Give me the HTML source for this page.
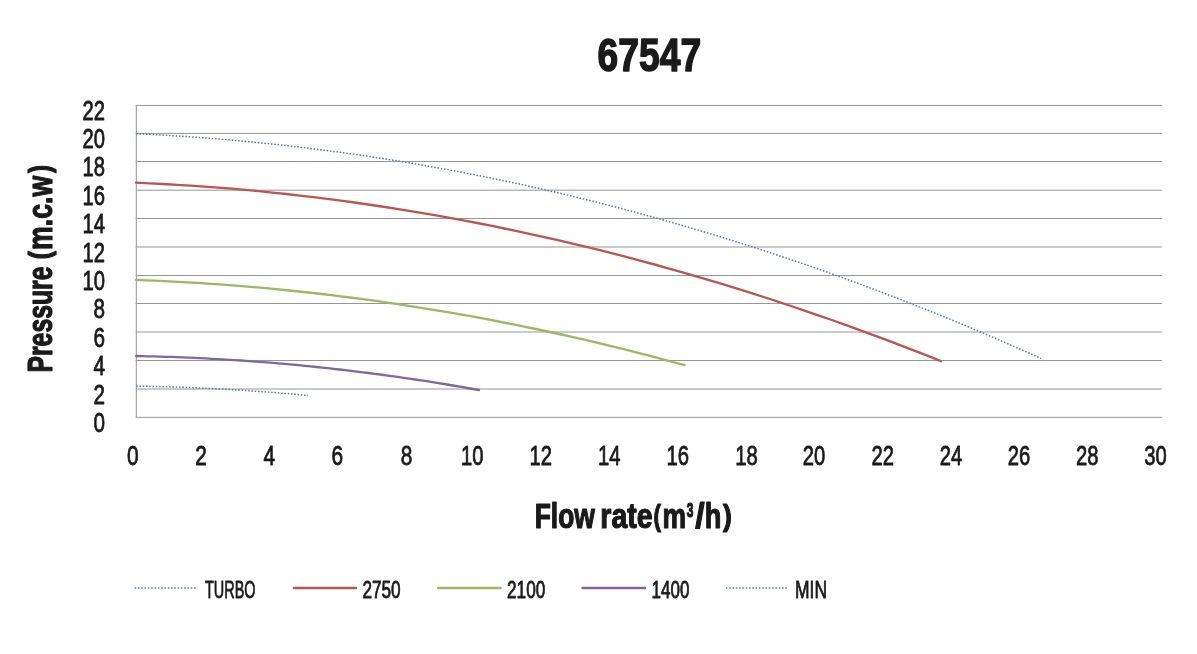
<!DOCTYPE html>
<html lang="en"><head><meta charset="utf-8"><title>67547</title>
<style>
html,body{margin:0;padding:0;background:#fff;}
svg{display:block;}
svg{will-change:transform;}
text{font-family:"Liberation Sans", sans-serif;fill:#1a1a1a;stroke:#1a1a1a;stroke-width:0.8;stroke-linejoin:round;}
.b{font-weight:bold;stroke-width:1.2;}
.t{stroke-width:1.5;}
</style></head><body>
<svg width="1197" height="654" viewBox="0 0 1197 654">

<g stroke="#969696" stroke-width="1.0" fill="none">
<line x1="135.70" y1="417.35" x2="1161.9" y2="417.35"/>
<line x1="135.70" y1="389.00" x2="1161.9" y2="389.00"/>
<line x1="135.70" y1="360.50" x2="1161.9" y2="360.50"/>
<line x1="135.70" y1="332.00" x2="1161.9" y2="332.00"/>
<line x1="135.70" y1="303.50" x2="1161.9" y2="303.50"/>
<line x1="135.70" y1="275.50" x2="1161.9" y2="275.50"/>
<line x1="135.70" y1="247.00" x2="1161.9" y2="247.00"/>
<line x1="135.70" y1="218.50" x2="1161.9" y2="218.50"/>
<line x1="135.70" y1="190.20" x2="1161.9" y2="190.20"/>
<line x1="135.70" y1="161.50" x2="1161.9" y2="161.50"/>
<line x1="135.70" y1="133.40" x2="1161.9" y2="133.40"/>
<line x1="135.70" y1="105.45" x2="1161.9" y2="105.45"/>
<line x1="136.35" y1="104.95" x2="136.35" y2="417.85" stroke="#a2a2a2" stroke-width="1.15"/>
</g>
<path d="M136.1,133.7 L151.4,134.4 L166.8,135.3 L182.1,136.3 L197.5,137.3 L212.8,138.5 L228.1,139.8 L243.5,141.2 L258.8,142.7 L274.2,144.2 L289.5,145.9 L304.8,147.8 L320.2,149.7 L335.5,151.7 L350.8,153.8 L366.2,156.0 L381.5,158.4 L396.9,160.8 L412.2,163.3 L427.5,166.0 L442.9,168.8 L458.2,171.6 L473.6,174.6 L488.9,177.7 L504.2,180.8 L519.6,184.1 L534.9,187.5 L550.3,191.0 L565.6,194.6 L580.9,198.3 L596.3,202.1 L611.6,206.0 L627.0,210.1 L642.3,214.2 L657.6,218.4 L673.0,222.8 L688.3,227.2 L703.6,231.7 L719.0,236.4 L734.3,241.2 L749.7,246.0 L765.0,251.0 L780.3,256.1 L795.7,261.3 L811.0,266.5 L826.4,271.9 L841.7,277.4 L857.0,283.0 L872.4,288.7 L887.7,294.6 L903.1,300.5 L918.4,306.5 L933.7,312.6 L949.1,318.9 L964.4,325.2 L979.8,331.7 L995.1,338.2 L1010.4,344.9 L1025.8,351.6 L1041.1,358.5" fill="none" stroke="#4a7ab4" stroke-width="1.5" stroke-dasharray="1.5 1.8"/>
<path d="M136.1,182.7 L149.7,183.3 L163.4,184.0 L177.0,184.8 L190.7,185.7 L204.3,186.6 L217.9,187.6 L231.6,188.7 L245.2,189.9 L258.9,191.2 L272.5,192.6 L286.2,194.0 L299.8,195.6 L313.4,197.2 L327.1,198.9 L340.7,200.7 L354.4,202.5 L368.0,204.5 L381.6,206.5 L395.3,208.6 L408.9,210.8 L422.6,213.1 L436.2,215.4 L449.8,217.9 L463.5,220.4 L477.1,223.0 L490.8,225.7 L504.4,228.5 L518.1,231.3 L531.7,234.3 L545.3,237.3 L559.0,240.4 L572.6,243.6 L586.3,246.9 L599.9,250.2 L613.5,253.7 L627.2,257.2 L640.8,260.8 L654.5,264.5 L668.1,268.3 L681.7,272.1 L695.4,276.1 L709.0,280.1 L722.7,284.2 L736.3,288.4 L750.0,292.7 L763.6,297.0 L777.2,301.4 L790.9,306.0 L804.5,310.6 L818.2,315.3 L831.8,320.0 L845.4,324.9 L859.1,329.8 L872.7,334.8 L886.4,339.9 L900.0,345.1 L913.7,350.4 L927.3,355.7 L940.9,361.2" fill="none" stroke="#bc5551" stroke-width="2.35" stroke-linecap="round" stroke-linejoin="round"/>
<path d="M136.1,279.9 L145.4,280.3 L154.7,280.7 L164.0,281.1 L173.3,281.6 L182.6,282.1 L191.9,282.6 L201.2,283.2 L210.5,283.8 L219.8,284.4 L229.1,285.1 L238.3,285.8 L247.6,286.6 L256.9,287.4 L266.2,288.2 L275.5,289.1 L284.8,290.0 L294.1,291.0 L303.4,292.0 L312.7,293.0 L322.0,294.0 L331.3,295.1 L340.6,296.3 L349.9,297.5 L359.2,298.7 L368.5,299.9 L377.8,301.2 L387.1,302.6 L396.4,303.9 L405.7,305.3 L415.0,306.8 L424.2,308.3 L433.5,309.8 L442.8,311.3 L452.1,312.9 L461.4,314.6 L470.7,316.2 L480.0,317.9 L489.3,319.7 L498.6,321.5 L507.9,323.3 L517.2,325.2 L526.5,327.1 L535.8,329.0 L545.1,331.0 L554.4,333.0 L563.7,335.0 L573.0,337.1 L582.3,339.2 L591.6,341.4 L600.9,343.6 L610.1,345.9 L619.4,348.1 L628.7,350.4 L638.0,352.8 L647.3,355.2 L656.6,357.6 L665.9,360.1 L675.2,362.6 L684.5,365.1" fill="none" stroke="#99b962" stroke-width="2.35" stroke-linecap="round" stroke-linejoin="round"/>
<path d="M136.1,356.0 L141.9,356.1 L147.7,356.3 L153.5,356.4 L159.3,356.6 L165.2,356.8 L171.0,356.9 L176.8,357.2 L182.6,357.4 L188.4,357.6 L194.2,357.9 L200.0,358.2 L205.8,358.4 L211.7,358.8 L217.5,359.1 L223.3,359.4 L229.1,359.8 L234.9,360.1 L240.7,360.5 L246.5,360.9 L252.3,361.3 L258.2,361.8 L264.0,362.2 L269.8,362.7 L275.6,363.2 L281.4,363.7 L287.2,364.2 L293.0,364.7 L298.8,365.2 L304.7,365.8 L310.5,366.4 L316.3,367.0 L322.1,367.6 L327.9,368.2 L333.7,368.8 L339.5,369.5 L345.3,370.2 L351.2,370.9 L357.0,371.6 L362.8,372.3 L368.6,373.0 L374.4,373.8 L380.2,374.5 L386.0,375.3 L391.8,376.1 L397.7,376.9 L403.5,377.8 L409.3,378.6 L415.1,379.5 L420.9,380.4 L426.7,381.2 L432.5,382.2 L438.3,383.1 L444.2,384.0 L450.0,385.0 L455.8,386.0 L461.6,386.9 L467.4,388.0 L473.2,389.0 L479.0,390.0" fill="none" stroke="#8066a2" stroke-width="2.35" stroke-linecap="round" stroke-linejoin="round"/>
<path d="M136.1,386.1 L139.0,386.2 L141.9,386.2 L144.8,386.3 L147.8,386.3 L150.7,386.4 L153.6,386.4 L156.5,386.5 L159.4,386.6 L162.3,386.7 L165.2,386.8 L168.2,386.8 L171.1,386.9 L174.0,387.0 L176.9,387.1 L179.8,387.2 L182.7,387.3 L185.7,387.4 L188.6,387.5 L191.5,387.7 L194.4,387.8 L197.3,387.9 L200.2,388.0 L203.1,388.2 L206.1,388.3 L209.0,388.4 L211.9,388.6 L214.8,388.7 L217.7,388.9 L220.6,389.0 L223.5,389.2 L226.5,389.4 L229.4,389.5 L232.3,389.7 L235.2,389.9 L238.1,390.0 L241.0,390.2 L243.9,390.4 L246.9,390.6 L249.8,390.8 L252.7,391.0 L255.6,391.2 L258.5,391.4 L261.4,391.6 L264.4,391.8 L267.3,392.0 L270.2,392.2 L273.1,392.5 L276.0,392.7 L278.9,392.9 L281.8,393.2 L284.8,393.4 L287.7,393.6 L290.6,393.9 L293.5,394.1 L296.4,394.4 L299.3,394.7 L302.2,394.9 L305.2,395.2 L308.1,395.4" fill="none" stroke="#4a7ab4" stroke-width="1.5" stroke-dasharray="1.5 1.8"/>
<text x="597.60" y="71.10" font-size="45.6" text-anchor="start" textLength="103.50" lengthAdjust="spacingAndGlyphs" class="b t">67547</text>
<text x="105.10" y="431.85" font-size="27.5" text-anchor="end" textLength="11.50" lengthAdjust="spacingAndGlyphs">0</text>
<text x="105.10" y="403.50" font-size="27.5" text-anchor="end" textLength="11.50" lengthAdjust="spacingAndGlyphs">2</text>
<text x="105.10" y="375.00" font-size="27.5" text-anchor="end" textLength="11.50" lengthAdjust="spacingAndGlyphs">4</text>
<text x="105.10" y="346.50" font-size="27.5" text-anchor="end" textLength="11.50" lengthAdjust="spacingAndGlyphs">6</text>
<text x="105.10" y="318.00" font-size="27.5" text-anchor="end" textLength="11.50" lengthAdjust="spacingAndGlyphs">8</text>
<text x="105.10" y="290.00" font-size="27.5" text-anchor="end" textLength="22.50" lengthAdjust="spacingAndGlyphs">10</text>
<text x="105.10" y="261.50" font-size="27.5" text-anchor="end" textLength="22.50" lengthAdjust="spacingAndGlyphs">12</text>
<text x="105.10" y="233.00" font-size="27.5" text-anchor="end" textLength="22.50" lengthAdjust="spacingAndGlyphs">14</text>
<text x="105.10" y="204.70" font-size="27.5" text-anchor="end" textLength="22.50" lengthAdjust="spacingAndGlyphs">16</text>
<text x="105.10" y="176.00" font-size="27.5" text-anchor="end" textLength="22.50" lengthAdjust="spacingAndGlyphs">18</text>
<text x="105.10" y="147.90" font-size="27.5" text-anchor="end" textLength="22.50" lengthAdjust="spacingAndGlyphs">20</text>
<text x="105.10" y="119.95" font-size="27.5" text-anchor="end" textLength="22.50" lengthAdjust="spacingAndGlyphs">22</text>
<text x="132.90" y="465.00" font-size="27.5" text-anchor="middle" textLength="11.60" lengthAdjust="spacingAndGlyphs">0</text>
<text x="201.07" y="465.00" font-size="27.5" text-anchor="middle" textLength="11.60" lengthAdjust="spacingAndGlyphs">2</text>
<text x="269.24" y="465.00" font-size="27.5" text-anchor="middle" textLength="11.60" lengthAdjust="spacingAndGlyphs">4</text>
<text x="337.41" y="465.00" font-size="27.5" text-anchor="middle" textLength="11.60" lengthAdjust="spacingAndGlyphs">6</text>
<text x="406.48" y="465.00" font-size="27.5" text-anchor="middle" textLength="11.60" lengthAdjust="spacingAndGlyphs">8</text>
<text x="472.15" y="465.00" font-size="27.5" text-anchor="middle" textLength="22.50" lengthAdjust="spacingAndGlyphs">10</text>
<text x="540.72" y="465.00" font-size="27.5" text-anchor="middle" textLength="22.50" lengthAdjust="spacingAndGlyphs">12</text>
<text x="609.19" y="465.00" font-size="27.5" text-anchor="middle" textLength="22.50" lengthAdjust="spacingAndGlyphs">14</text>
<text x="677.76" y="465.00" font-size="27.5" text-anchor="middle" textLength="22.50" lengthAdjust="spacingAndGlyphs">16</text>
<text x="746.43" y="465.00" font-size="27.5" text-anchor="middle" textLength="22.50" lengthAdjust="spacingAndGlyphs">18</text>
<text x="814.00" y="465.00" font-size="27.5" text-anchor="middle" textLength="22.50" lengthAdjust="spacingAndGlyphs">20</text>
<text x="882.77" y="465.00" font-size="27.5" text-anchor="middle" textLength="22.50" lengthAdjust="spacingAndGlyphs">22</text>
<text x="950.94" y="465.00" font-size="27.5" text-anchor="middle" textLength="22.50" lengthAdjust="spacingAndGlyphs">24</text>
<text x="1019.11" y="465.00" font-size="27.5" text-anchor="middle" textLength="22.50" lengthAdjust="spacingAndGlyphs">26</text>
<text x="1087.28" y="465.00" font-size="27.5" text-anchor="middle" textLength="22.50" lengthAdjust="spacingAndGlyphs">28</text>
<text x="1155.45" y="465.00" font-size="27.5" text-anchor="middle" textLength="22.50" lengthAdjust="spacingAndGlyphs">30</text>
<text x="534.69" y="528.2" font-size="34.8" class="b" textLength="60.21" lengthAdjust="spacingAndGlyphs">Flow</text>
<text x="600.36" y="528.2" font-size="34.8" class="b" textLength="52.24" lengthAdjust="spacingAndGlyphs">rate</text>
<text x="653.39" y="526.2" font-size="30.3" class="b" textLength="7.48" lengthAdjust="spacingAndGlyphs">(</text>
<text x="662.48" y="528.2" font-size="34.8" class="b" textLength="23.59" lengthAdjust="spacingAndGlyphs">m</text>
<text x="686.80" y="516.5" font-size="20" class="b" textLength="6.68" lengthAdjust="spacingAndGlyphs">3</text>
<text x="695.31" y="528.2" font-size="34.8" class="b" textLength="9.40" lengthAdjust="spacingAndGlyphs">/</text>
<text x="704.65" y="528.2" font-size="34.8" class="b" textLength="16.63" lengthAdjust="spacingAndGlyphs">h</text>
<text x="722.88" y="526.2" font-size="30.3" class="b" textLength="8.81" lengthAdjust="spacingAndGlyphs">)</text>
<text transform="translate(51.8,372.60) rotate(-90)" x="0" y="0" font-size="34.8" class="b" textLength="106.17" lengthAdjust="spacingAndGlyphs">Pressure</text>
<text transform="translate(49.9,259.30) rotate(-90)" x="0" y="0" font-size="30.3" class="b" textLength="8.07" lengthAdjust="spacingAndGlyphs">(</text>
<text transform="translate(51.8,249.92) rotate(-90)" x="0" y="0" font-size="34.8" class="b" textLength="74.09" lengthAdjust="spacingAndGlyphs">m.c.w</text>
<text transform="translate(49.9,172.90) rotate(-90)" x="0" y="0" font-size="30.3" class="b" textLength="7.95" lengthAdjust="spacingAndGlyphs">)</text>
<line x1="134.7" y1="588" x2="196.4" y2="588" stroke="#4a7ab4" stroke-width="1.5" stroke-dasharray="1.5 1.8"/>
<text x="205.00" y="597.80" font-size="23" text-anchor="start" textLength="50.50" lengthAdjust="spacingAndGlyphs">TURBO</text>
<line x1="293.8" y1="588" x2="356.1" y2="588" stroke="#bc5551" stroke-width="2.3" stroke-linecap="round"/>
<text x="362.40" y="597.80" font-size="23" text-anchor="start" textLength="38.30" lengthAdjust="spacingAndGlyphs">2750</text>
<line x1="438" y1="588" x2="500.7" y2="588" stroke="#99b962" stroke-width="2.3" stroke-linecap="round"/>
<text x="507.00" y="597.80" font-size="23" text-anchor="start" textLength="38.30" lengthAdjust="spacingAndGlyphs">2100</text>
<line x1="582.5" y1="588" x2="645" y2="588" stroke="#8066a2" stroke-width="2.3" stroke-linecap="round"/>
<text x="651.60" y="597.80" font-size="23" text-anchor="start" textLength="37.80" lengthAdjust="spacingAndGlyphs">1400</text>
<line x1="725.9" y1="588" x2="787.2" y2="588" stroke="#4a7ab4" stroke-width="1.5" stroke-dasharray="1.5 1.8"/>
<text x="795.00" y="597.80" font-size="23" text-anchor="start" textLength="32.00" lengthAdjust="spacingAndGlyphs">MIN</text>
</svg></body></html>
